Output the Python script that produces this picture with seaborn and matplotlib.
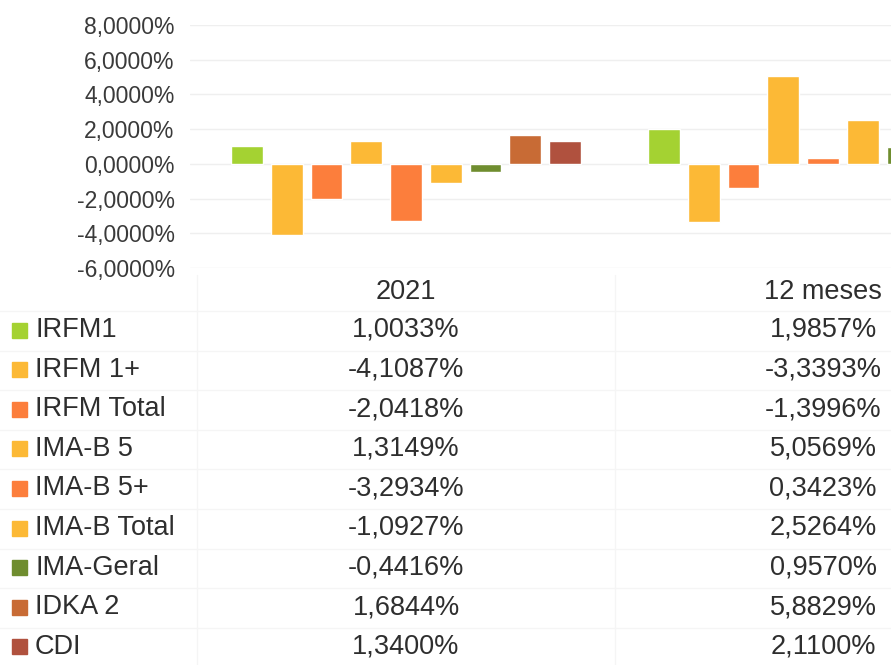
import matplotlib
matplotlib.use("Agg")
import matplotlib.pyplot as plt
import pandas as pd
import seaborn as sns
from matplotlib.patches import Rectangle
from matplotlib.transforms import blended_transform_factory

# data
periods = ["2021", "12 meses"]
indices = ["IRFM1", "IRFM 1+", "IRFM Total", "IMA-B 5", "IMA-B 5+",
           "IMA-B Total", "IMA-Geral", "IDKA 2", "CDI"]
ret_2021 = [1.0033, -4.1087, -2.0418, 1.3149, -3.2934, -1.0927, -0.4416, 1.6844, 1.3400]
ret_12m = [1.9857, -3.3393, -1.3996, 5.0569, 0.3423, 2.5264, 0.9570, 5.8829, 2.1100]
colors = ["#A4D232", "#FCB936", "#FC7E3C", "#FCB936", "#FC7E3C",
          "#FCB936", "#6F8D2F", "#C86B35", "#B0513E"]
yticks = [-6, -4, -2, 0, 2, 4, 6, 8]

df = pd.DataFrame({
    "periodo": [p for p in periods for _ in indices],
    "indice": indices * 2,
    "retorno": ret_2021 + ret_12m,
})

W, H = 891, 665
sns.set_theme(style="white")
plt.rcParams["font.family"] = ["Liberation Sans", "DejaVu Sans"]

fig = plt.figure(figsize=(W / 100, H / 100), dpi=100)
# plot area in pixels: x 190..891, y 25..268
ax = fig.add_axes([190 / W, 1 - 268 / H, (W - 190) / W, 243 / H])

sns.barplot(data=df, x="periodo", y="retorno", hue="indice",
            hue_order=indices, palette=colors, width=0.857, gap=0.2,
            saturation=1, legend=False, ax=ax)

ax.set_xlim(-0.518, 1.163)
ax.set_ylim(-6, 8)
ax.set_yticks(yticks)
ax.set_yticklabels([f"{v:.4f}%".replace(".", ",") for v in yticks],
                   fontsize=16.5, color="#3A3A3A")
ax.tick_params(axis="y", length=0, pad=11)
ax.set_xticks([])
ax.set_xlabel("")
ax.set_ylabel("")
ax.grid(axis="y", color="#EFEFEF", linewidth=1)
ax.set_axisbelow(True)
for s in ax.spines.values():
    s.set_visible(False)

# data table below the chart
def fy(py):
    return 1 - py / H

trans = blended_transform_factory(ax.transData, fig.transFigure)
txt_kw = dict(fontsize=19.5, color="#2E2E2E", va="center")

ax.text(0, fy(292), periods[0], transform=trans, ha="center", **txt_kw)
ax.text(1, fy(292), periods[1], transform=trans, ha="center", **txt_kw)

row_h = 39.6
for i, name in enumerate(indices):
    cy = 330 + i * row_h
    fig.patches.append(Rectangle((12 / W, fy(cy + 7.5)), 15 / W, 15 / H,
                                 transform=fig.transFigure, color=colors[i]))
    fig.text(35 / W, fy(cy), name, ha="left", **txt_kw)
    ax.text(0, fy(cy), f"{ret_2021[i]:.4f}%".replace(".", ","),
            transform=trans, ha="center", **txt_kw)
    ax.text(1, fy(cy), f"{ret_12m[i]:.4f}%".replace(".", ","),
            transform=trans, ha="center", **txt_kw)

# faint table grid
line_kw = dict(color="#F5F5F5", linewidth=1, transform=fig.transFigure)
for i in range(10):
    y = fy(311 + i * row_h)
    fig.add_artist(plt.Line2D([0, 1], [y, y], **line_kw))
for px in [197, 615]:
    fig.add_artist(plt.Line2D([px / W, px / W], [0, fy(275)], **line_kw))

fig.savefig("out.png", dpi=100)
